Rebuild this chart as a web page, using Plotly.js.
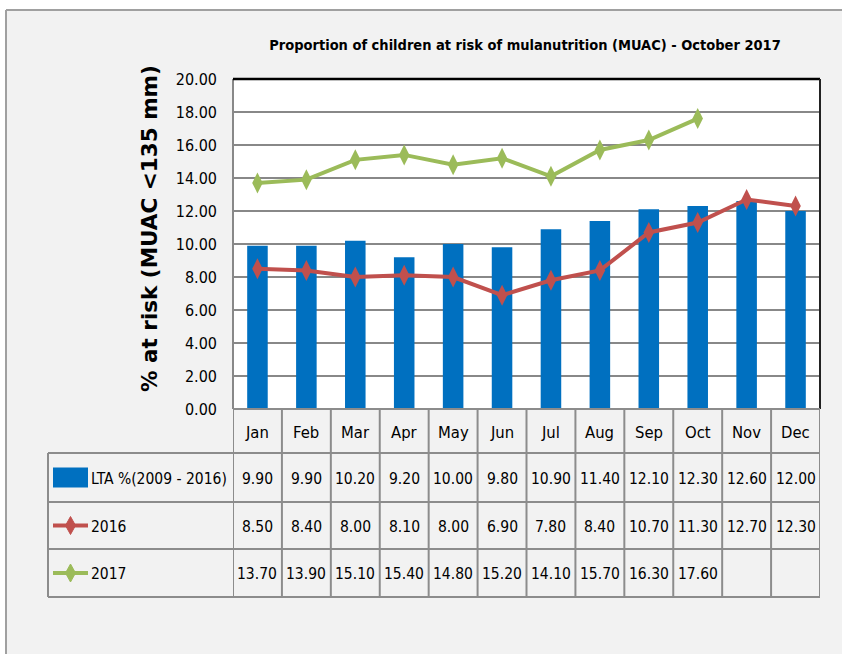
<!DOCTYPE html>
<html><head><meta charset="utf-8">
<script src="https://cdn.plot.ly/plotly-3.0.1.min.js"></script>
<style>html,body{margin:0;padding:0;background:#fff}#chart{width:842px;height:654px}</style>
</head><body><div id="chart"></div>
<script>
const months = ['Jan','Feb','Mar','Apr','May','Jun','Jul','Aug','Sep','Oct','Nov','Dec'];
const seriesNames = ['LTA %(2009 - 2016)', '2016', '2017'];
const lta = [9.9, 9.9, 10.2, 9.2, 10.0, 9.8, 10.9, 11.4, 12.1, 12.3, 12.6, 12.0];
const y2016 = [8.5, 8.4, 8.0, 8.1, 8.0, 6.9, 7.8, 8.4, 10.7, 11.3, 12.7, 12.3];
const y2017 = [13.7, 13.9, 15.1, 15.4, 14.8, 15.2, 14.1, 15.7, 16.3, 17.6, null, null];
const yTicks = [0, 2, 4, 6, 8, 10, 12, 14, 16, 18, 20];
const yTitle = '% at risk (MUAC <135 mm)';
const chartTitle = 'Proportion of children at risk of mulanutrition (MUAC) - October 2017';

const W = 842, H = 654, L = 233, R = 820, T = 79, B = 409;
const px = x => (x - L) / (R - L);
const py = y => (B - y) / (B - T);

const colBar = '#0070C0', col16 = '#C0504D', col17 = '#9BBB59';
const gridCol = '#888888';
const narrow = '"DejaVu Sans Condensed", "Liberation Sans Narrow", sans-serif';

const traces = [
  {type:'bar', x: months, y: lta, name: seriesNames[0], marker:{color: colBar}, width: 0.42, showlegend:false},
  {type:'scatter', mode:'lines+markers', x: months, y: y2016, name: seriesNames[1],
   line:{color: col16, width: 4}, marker:{symbol:'diamond-tall', size: 15, color: col16}, showlegend:false},
  {type:'scatter', mode:'lines+markers', x: months, y: y2017, name: seriesNames[2],
   line:{color: col17, width: 4}, marker:{symbol:'diamond-tall', size: 15, color: col17}, showlegend:false}
];

const shapes = [];
const annotations = [];
const tl = '#8c8c8c';
// outer white margins & frame
shapes.push({type:'rect', xref:'paper', yref:'paper', x0: px(-5), x1: px(850), y0: py(0), y1: py(10), fillcolor:'#fff', line:{width:0}, layer:'below'});
shapes.push({type:'rect', xref:'paper', yref:'paper', x0: px(-5), x1: px(6), y0: py(660), y1: py(0), fillcolor:'#fff', line:{width:0}, layer:'below'});
shapes.push({type:'line', xref:'paper', yref:'paper', x0: px(6), x1: px(850), y0: py(10), y1: py(10), line:{color:'#a0a0a0', width:2}});
shapes.push({type:'line', xref:'paper', yref:'paper', x0: px(6), x1: px(6), y0: py(10), y1: py(660), line:{color:'#a0a0a0', width:2}});
// plot frame
shapes.push({type:'line', xref:'paper', yref:'paper', x0: 0, x1: 0, y0: 0, y1: 1, line:{color: gridCol, width:2}});
shapes.push({type:'line', xref:'paper', yref:'paper', x0: 0, x1: 1, y0: 1, y1: 1, line:{color:'#000', width:2.5}});
shapes.push({type:'line', xref:'paper', yref:'paper', x0: 1, x1: 1, y0: 0, y1: 1, line:{color:'#222', width:2}});

// table grid
const rowY = [409, 453, 502, 549, 597];
const tLeft = 48;
shapes.push({type:'line', xref:'paper', yref:'paper', x0: 0, x1: 1, y0: py(rowY[0]), y1: py(rowY[0]), line:{color: tl, width:2}});
for (let r = 1; r < rowY.length; r++) {
  shapes.push({type:'line', xref:'paper', yref:'paper', x0: px(tLeft), x1: 1, y0: py(rowY[r]), y1: py(rowY[r]), line:{color: tl, width:2}});
}
shapes.push({type:'line', xref:'paper', yref:'paper', x0: px(tLeft), x1: px(tLeft), y0: py(rowY[1]), y1: py(rowY[4]), line:{color: tl, width:2}});
for (let i = 0; i <= months.length; i++) {
  shapes.push({type:'line', xref:'x', yref:'paper', x0: i - 0.5, x1: i - 0.5, y0: py(rowY[0]), y1: py(rowY[4]), line:{color: tl, width:2}});
}

const tFont = {family: narrow, size: 15.5, color:'#000'};
months.forEach((m, i) => {
  annotations.push({xref:'x', yref:'paper', x: m, y: py((rowY[0]+rowY[1])/2 + 1), text: m, showarrow:false, font: {family: narrow, size: 16.5, color:'#000'}, xanchor:'center', yanchor:'middle'});
});
const rows = [lta, y2016, y2017];
rows.forEach((vals, r) => {
  const yc = py((rowY[r+1] + rowY[r+2]) / 2 + 1);
  vals.forEach((v, i) => {
    if (v === null) return;
    annotations.push({xref:'x', yref:'paper', x: months[i], y: yc, text: v.toFixed(2), showarrow:false, font: tFont, xanchor:'center', yanchor:'middle'});
  });
  annotations.push({xref:'paper', yref:'paper', x: px(89), y: yc, text: seriesNames[r], showarrow:false, font: tFont, xanchor:'left', yanchor:'middle'});
});
// y axis title
annotations.push({xref:'paper', yref:'paper', x: px(149), y: py(229), text: yTitle, textangle: -90, showarrow:false,
  font: {family: '"DejaVu Sans", Verdana, sans-serif', size: 21.5, color:'#000', weight:'bold'}, xanchor:'center', yanchor:'middle'});
// legend keys
const k0 = 53, k1 = 88;
let yc = (rowY[1] + rowY[2]) / 2;
shapes.push({type:'rect', xref:'paper', yref:'paper', x0: px(k0), x1: px(k1), y0: py(yc + 10), y1: py(yc - 10), fillcolor: colBar, line:{width:0}});
[[col16, 2], [col17, 3]].forEach(([c, r]) => {
  const y = (rowY[r] + rowY[r+1]) / 2;
  shapes.push({type:'line', xref:'paper', yref:'paper', x0: px(k0), x1: px(k1), y0: py(y), y1: py(y), line:{color: c, width: 4}});
  const cx = (k0 + k1) / 2;
  const path = `M ${px(cx)},${py(y-9)} L ${px(cx+5)},${py(y)} L ${px(cx)},${py(y+9)} L ${px(cx-5)},${py(y)} Z`;
  shapes.push({type:'path', xref:'paper', yref:'paper', path: path, fillcolor: c, line:{color: c, width: 1}});
});

const layout = {
  width: W, height: H,
  margin: {l: L, r: W - R, t: T, b: H - B, pad: 0},
  paper_bgcolor: '#f2f2f2', plot_bgcolor: '#ffffff',
  title: {text: chartTitle,
          font: {family: narrow, size: 14.5, color:'#000', weight: 'bold'},
          x: 525 / W, xanchor: 'center', y: 1 - 45 / H, yanchor: 'middle'},
  xaxis: {type:'category', categoryarray: months, range:[-0.5, 11.5], showticklabels:false, showgrid:false, zeroline:false, showline:false, ticks:''},
  yaxis: {range:[0, 20], tickvals: yTicks, ticktext: yTicks.map(v => v.toFixed(2)),
          showgrid:true, gridcolor: gridCol, gridwidth: 2, zeroline:false, showline:false, ticks:'',
          ticklabelstandoff: 15,
          tickfont: {family: narrow, size: 16, color:'#000'}},
  bargap: 0.58,
  showlegend: false,
  shapes: shapes,
  annotations: annotations
};
Plotly.newPlot('chart', traces, layout, {staticPlot: true, displayModeBar: false});
</script></body></html>
